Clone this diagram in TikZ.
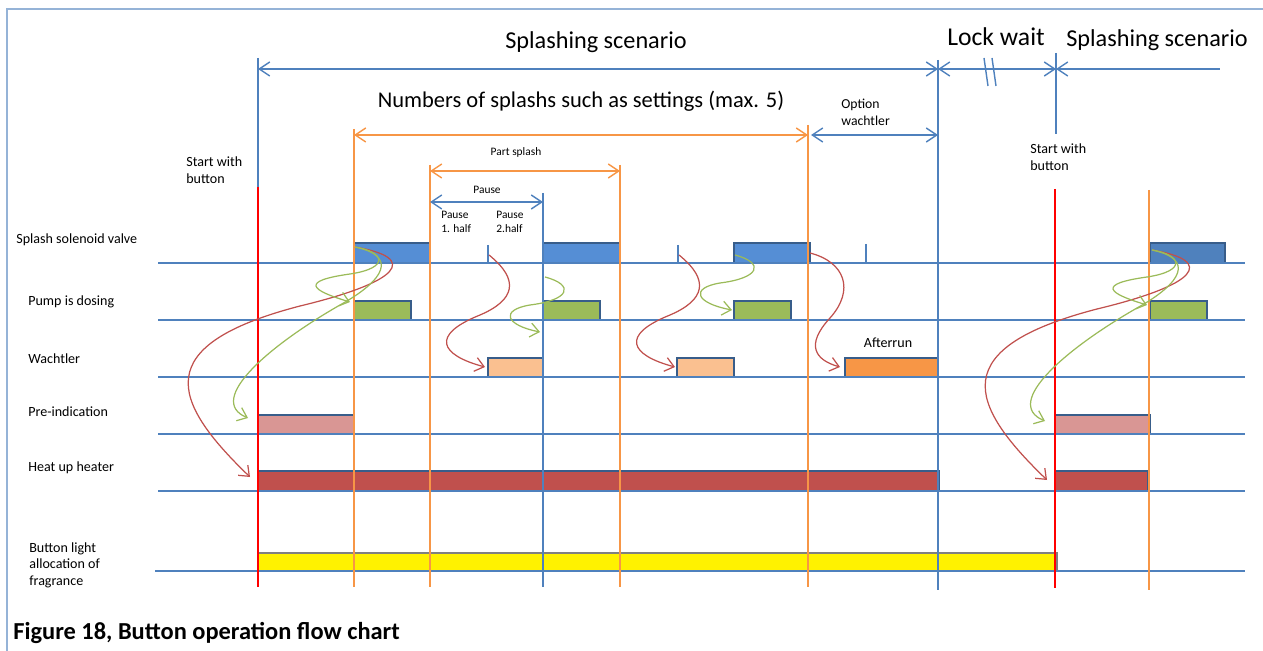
\documentclass[tikz,border=0pt]{standalone}
\usepackage{fontspec}
\setmainfont{Carlito}
\usetikzlibrary{arrows.meta}

\definecolor{laneblue}{HTML}{4F81BD}
\definecolor{frameblue}{HTML}{95B3D7}
\definecolor{tickorange}{HTML}{F79646}
\definecolor{startred}{HTML}{FF0000}
\definecolor{barline}{HTML}{385D8A}
\definecolor{valvefill}{HTML}{558ED5}
\definecolor{valvedark}{HTML}{4F81BD}
\definecolor{pumpfill}{HTML}{9BBB59}
\definecolor{wachfill}{HTML}{FAC090}
\definecolor{afterfill}{HTML}{F79646}
\definecolor{prefill}{HTML}{D99694}
\definecolor{heatfill}{HTML}{C0504D}
\definecolor{arrred}{HTML}{C0504D}
\definecolor{arrgreen}{HTML}{9BBB59}

\tikzset{
  lane/.style={laneblue, line width=1pt},
  bar/.style={draw=barline, line width=0.6pt},
  bluev/.style={laneblue, line width=0.9pt},
  orangev/.style={tickorange, line width=0.8pt},
  redv/.style={startred, line width=1.3pt},
  dimb/.style={laneblue, line width=0.8pt},
  dimo/.style={tickorange, line width=0.8pt},
  flowr/.style={arrred, line width=0.7pt, -{Straight Barb[length=5pt,width=8pt]}},
  flowg/.style={arrgreen, line width=0.7pt, -{Straight Barb[length=5pt,width=8pt]}},
  rowlbl/.style={anchor=west, align=left, inner sep=0pt, font=\fontsize{8}{9.4}\selectfont},
  smalllbl/.style={inner sep=0pt, align=left, font=\fontsize{6.5}{8}\selectfont},
  title/.style={inner sep=0pt, font=\fontsize{13.8}{16}\selectfont},
}

\begin{document}
\begin{tikzpicture}[x=0.02cm, y=-0.02cm, >={Straight Barb[length=6pt,width=8pt]}, line cap=butt]
    \useasboundingbox (0,0) rectangle (1263,651);
    % frame
    \draw[frameblue, line width=1.2pt] (1263,9) -- (7,9) -- (7,651);

    % row names
    \node[rowlbl] (nvalve) at (16,240) {Splash solenoid valve};
    \node[rowlbl] (npump) at (28,302) {Pump is dosing};
    \node[rowlbl] (nwach) at (28,359) {Wachtler};
    \node[rowlbl] (npre) at (28,412) {Pre-indication};
    \node[rowlbl] (nheat) at (28,468) {Heat up heater};
    \node[rowlbl] (nlight) at (29,565) {Button light\\allocation of\\fragrance};

    % bars
    \filldraw[bar, fill=valvefill] (354,243) rectangle (430,263);
    \filldraw[bar, fill=valvefill] (543,243) rectangle (620,263);
    \filldraw[bar, fill=valvefill] (734,243) rectangle (810,263);
    \filldraw[bar, fill=valvedark] (1150,243) rectangle (1225,263);
    \filldraw[bar, fill=pumpfill] (354,301) rectangle (411,320);
    \filldraw[bar, fill=pumpfill] (543,301) rectangle (600,320);
    \filldraw[bar, fill=pumpfill] (734,301) rectangle (791,320);
    \filldraw[bar, fill=pumpfill] (1150,301) rectangle (1207,320);
    \filldraw[bar, fill=wachfill] (488,358) rectangle (543,377);
    \filldraw[bar, fill=wachfill] (677,358) rectangle (734,377);
    \filldraw[bar, fill=afterfill] (845,358) rectangle (938,377);
    \filldraw[bar, fill=prefill] (258,415) rectangle (354,434);
    \filldraw[bar, fill=prefill] (1055,415) rectangle (1150,434);
    \filldraw[bar, fill=heatfill] (258,471) rectangle (939,491);
    \filldraw[bar, fill=heatfill] (1055,471) rectangle (1148,491);
    \filldraw[draw=gray, line width=0.6pt, fill=yellow] (258,553) rectangle (1057,571);

    % lanes
    \foreach \y in {263,320,377,434,491}
        \draw[lane] (158,\y) -- (1245,\y);
    \draw[lane] (155,571) -- (1245,571);
    \draw[bluev] (488,245) -- (488,263);
    \draw[bluev] (678,245) -- (678,263);
    \draw[bluev] (866,244) -- (866,263);

    % time marks
    \draw[bluev] (258,58) -- (258,187);
    \draw[redv] (258,187) -- (258,587);
    \draw[orangev] (354,129) -- (354,587);
    \draw[orangev] (430,165) -- (430,587);
    \draw[bluev] (543,193) -- (543,587);
    \draw[orangev] (620,165) -- (620,587);
    \draw[orangev] (808,125) -- (808,587);
    \draw[bluev] (938,60) -- (938,590);
    \draw[bluev] (1056,53) -- (1056,134);
    \draw[redv] (1055,189) -- (1055,588);
    \draw[orangev] (1149,190) -- (1149,590);

    % spans
    \draw[dimb, <->] (258,69) -- (938,69);
    \draw[dimb, <->] (938,69) -- (1056,69);
    \draw[dimb, <-] (1056,69) -- (1220,69);
    \draw[dimb] (984,58) -- (988,86) (992,58) -- (996,86);
    \draw[dimo, <->] (354,135) -- (808,135);
    \draw[dimb, <->] (811,135) -- (938,135);
    \draw[dimo, <->] (430,171) -- (620,171);
    \draw[dimb, <->] (430,202) -- (543,202);

    % texts
    \node[title] (tsplash) at (596,42) {Splashing scenario};
    \node[title, font=\fontsize{14.6}{16}\selectfont] (tlock) at (996,37) {Lock wait};
    \node[title] (tsplash2) at (1157,40) {Splashing scenario};
    \node[inner sep=0pt, font=\fontsize{12.8}{15}\selectfont] (tnum) at (581,101) {Numbers of splashs such as settings (max. 5)};
    \node[smalllbl, anchor=west, font=\fontsize{7.8}{9.6}\selectfont] (topt) at (841,112) {Option\\wachtler};
    \node[smalllbl] (tpart) at (516,152) {Part splash};
    \node[smalllbl] (tpause) at (487,190) {Pause};
    \node[smalllbl, anchor=west] (thalf1) at (441,222) {Pause\\1. half};
    \node[smalllbl, anchor=west] (thalf2) at (496,222) {Pause\\2.half};
    \node[rowlbl] (tstart) at (186,170) {Start with\\button};
    \node[rowlbl] (tstart2) at (1030,157) {Start with\\button};
    \node[inner sep=0pt, font=\fontsize{8}{9.4}\selectfont] (tafter) at (888,343) {Afterrun};

    % cause and effect, both scenarios
    \foreach \n/\dx/\dy in {1/0/0, 5/797/3} {
        \begin{scope}[shift={(\dx,\dy)}]
            \coordinate (v\n) at (355,247);
            \coordinate (d\n) at (350,302);
            \coordinate (p\n) at (248,418);
            \coordinate (h\n) at (250,477);
            \draw[flowr] (v\n) .. controls (420,258) and (400,282) .. (300,306)
                .. controls (150,345) and (170,400) .. (h\n);
            \draw[flowg] (v\n) .. controls (385,252) and (390,268) .. (350,274)
                .. controls (300,281) and (310,290) .. (d\n);
            \draw[flowg] (v\n) .. controls (398,256) and (385,280) .. (340,305)
                .. controls (270,345) and (205,400) .. (p\n);
        \end{scope}
    }
    % pauses
    \foreach \n/\dx in {2/0, 3/190} {
        \begin{scope}[shift={(\dx,0)}]
            \coordinate (k\n) at (489,255);
            \coordinate (w\n) at (485,367);
            \draw[flowr] (k\n) .. controls (520,280) and (515,300) .. (480,315)
                .. controls (430,335) and (440,355) .. (w\n);
        \end{scope}
    }
    \coordinate (g2) at (545,277);
    \coordinate (e2) at (540,332);
    \draw[flowg] (g2) .. controls (575,285) and (570,300) .. (530,305)
        .. controls (500,310) and (505,325) .. (e2);
    \coordinate (g3) at (735,255);
    \coordinate (e3) at (732,310);
    \draw[flowg] (g3) .. controls (765,263) and (760,278) .. (720,283)
        .. controls (690,288) and (695,303) .. (e3);
    \coordinate (k4) at (810,253);
    \coordinate (a4) at (840,367);
    \draw[flowr] (k4) .. controls (845,262) and (855,290) .. (830,318)
        .. controls (805,345) and (815,360) .. (a4);

    % caption
    \node[anchor=west, inner sep=0pt, font=\bfseries\fontsize{13.9}{16}\selectfont] (caption) at (13,633) {Figure 18, Button operation flow chart};
\end{tikzpicture}
\end{document}
